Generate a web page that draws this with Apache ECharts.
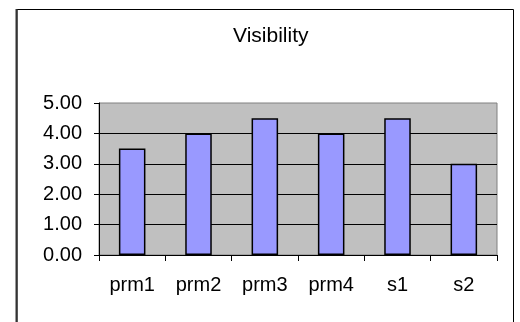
<!DOCTYPE html>
<html>
<head>
<meta charset="utf-8">
<style>
  html, body { margin: 0; padding: 0; background: #ffffff; }
  #chart { width: 520px; height: 322px; }
</style>
<script src="https://cdn.jsdelivr.net/npm/echarts@6/dist/echarts.min.js"></script>
</head>
<body>
<div id="chart"></div>
<script>
// Visibility scores per configuration
const categories = ['prm1', 'prm2', 'prm3', 'prm4', 's1', 's2'];
const visibility = [3.5, 4.0, 4.5, 4.0, 4.5, 3.0];
const yTicks = [0, 1, 2, 3, 4, 5];

const FONT = '"Liberation Sans", Arial, sans-serif';

const chart = echarts.init(document.getElementById('chart'), null, { renderer: 'canvas' });

chart.setOption({
  animation: false,
  backgroundColor: '#ffffff',
  title: {
    text: 'Visibility',
    left: 228,
    top: 21,
    textStyle: { fontFamily: FONT, fontSize: 21, fontWeight: 'normal', color: '#000000' }
  },
  graphic: [
    {
      // chart frame (open at the bottom edge)
      type: 'polyline',
      shape: { points: [[17, 330], [17, 9.5], [513.5, 9.5], [513.5, 330]] },
      style: { stroke: '#000000', lineWidth: 1, fill: null },
      silent: true
    },
    {
      type: 'line',
      shape: { x1: 16.5, y1: 9, x2: 16.5, y2: 330 },
      style: { stroke: '#333333', lineWidth: 2 },
      silent: true
    }
  ],
  grid: {
    left: 99,
    right: 23,
    top: 103,
    bottom: 67,
    show: true,
    backgroundColor: '#c0c0c0',
    borderColor: '#808080',
    borderWidth: 1
  },
  xAxis: {
    type: 'category',
    data: categories,
    boundaryGap: true,
    axisLine: { show: true, lineStyle: { color: '#000000', width: 1 } },
    axisTick: { show: true, alignWithLabel: false, length: 6, lineStyle: { color: '#000000' } },
    axisLabel: { fontFamily: FONT, fontSize: 20, color: '#000000', margin: 20 },
    splitLine: { show: false }
  },
  yAxis: {
    type: 'value',
    min: yTicks[0],
    max: yTicks[yTicks.length - 1],
    interval: 1,
    axisLine: { show: true, lineStyle: { color: '#000000', width: 1 } },
    axisTick: { show: true, length: 5, lineStyle: { color: '#000000' } },
    axisLabel: {
      fontFamily: FONT, fontSize: 20, color: '#000000', margin: 17,
      formatter: v => v.toFixed(2)
    },
    splitLine: { show: true, showMaxLine: false, lineStyle: { color: '#000000', width: 1 } }
  },
  series: [{
    type: 'bar',
    data: visibility,
    barWidth: '40%',
    itemStyle: { color: '#9999ff', borderColor: '#000000', borderWidth: 1.5 }
  }]
});
</script>
</body>
</html>
